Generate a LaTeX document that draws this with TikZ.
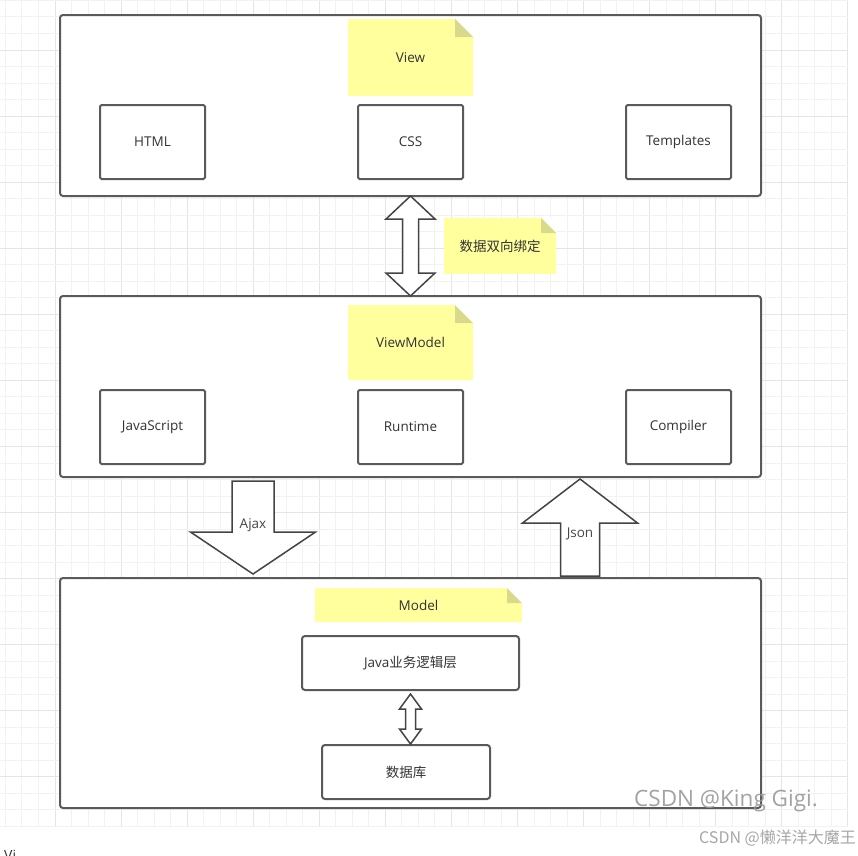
\documentclass[tikz,border=0pt]{standalone}
\usepackage{fontspec}
\setmainfont{Open Sans}
\newfontfamily\cjk{Noto Sans CJK SC}
\usetikzlibrary{calc}
\definecolor{gridmin}{HTML}{F2F2F2}
\definecolor{gridmaj}{HTML}{E5E5E5}
\definecolor{strokec}{HTML}{5A5A5A}
\definecolor{arrowc}{HTML}{444444}
\definecolor{notey}{HTML}{FFFF9E}
\definecolor{foldc}{HTML}{D9D98C}
\definecolor{txtc}{HTML}{333333}
\tikzset{
  gridminor/.style={draw=gridmin, line width=1pt},
  gridmajor/.style={draw=gridmaj, line width=1pt},
  container/.style={draw=strokec, line width=2pt, fill=white, rounded corners=3pt, inner sep=0pt},
  innerbox/.style={draw=strokec, line width=2pt, fill=white, rounded corners=1.5pt, inner sep=0pt,
    minimum width=105pt, minimum height=74pt, font=\fontsize{13.5}{15}\selectfont, text=txtc},
  roundbox/.style={draw=strokec, line width=2pt, fill=white, rounded corners=3pt, inner sep=0pt,
    minimum height=54pt, font=\fontsize{13.5}{15}\selectfont, text=txtc},
  note/.style={fill=notey, inner sep=0pt, font=\fontsize{13.5}{15}\selectfont, text=txtc,
    path picture={
      \fill[white] (path picture bounding box.north east) -- ++(-#1,0pt) -- ++(#1,-#1) -- cycle;
      \fill[foldc] ([xshift=-#1]path picture bounding box.north east) -- ++(#1,-#1) -- ++(-#1,0pt) -- cycle;
    }},
  blockarrow/.style={draw=arrowc, line width=1.5pt, fill=white, line join=miter},
  arrowlabel/.style={inner sep=0pt, font=\fontsize{13.5}{15}\selectfont, text=txtc!90!white},
  mark1/.style={inner sep=0pt, font=\fontsize{22.5}{24}\selectfont, text=black!40, opacity=0.9},
  mark2/.style={inner sep=0pt, font=\cjk\fontsize{16}{18}\selectfont, text=black!35}
}
\begin{document}
\begin{tikzpicture}[x=1pt,y=-1pt]
\useasboundingbox (0,0) rectangle (858,855);
\clip (0,0) rectangle (858,855);
% grid
\foreach \k in {-3,...,48}{
  \pgfmathtruncatemacro\m{mod(\k+400,4)}
  \pgfmathsetmacro\xx{55+16.52*\k}
  \ifnum\m=0 \draw[gridmajor] (\xx,0) -- (\xx,827); \else \draw[gridminor] (\xx,0) -- (\xx,827); \fi
}
\foreach \k in {-3,...,47}{
  \pgfmathtruncatemacro\m{mod(\k+400,4)}
  \pgfmathsetmacro\yy{50+16.52*\k}
  \ifnum\m=0 \draw[gridmajor] (0,\yy) -- (848,\yy); \else \draw[gridminor] (0,\yy) -- (848,\yy); \fi
}
% containers
\node[container, minimum width=701pt, minimum height=181pt] (view) at (410.5,105.5) {};
\node[container, minimum width=701pt, minimum height=181pt] (vm) at (410.5,386.5) {};
\node[container, minimum width=701pt, minimum height=230pt] (model) at (410.5,693) {};
% notes
\node[note=18pt, minimum width=125pt, minimum height=77pt] (vnote) at (410.5,57.5) {View};
\node[note=18pt, minimum width=125pt, minimum height=75pt] (vmnote) at (410.5,342.5) {ViewModel};
\node[note=15pt, minimum width=207pt, minimum height=34pt] (mnote) at (418.5,605) {Model};
% inner boxes
\node[innerbox] (html) at (152.5,142) {HTML};
\node[innerbox] (css) at (410.5,142) {CSS};
\node[innerbox] (tpl) at (678.5,142) {Templates};
\node[innerbox] (js) at (152.5,427) {JavaScript};
\node[innerbox] (rt) at (410.5,427) {Runtime};
\node[innerbox] (cmp) at (678.5,427) {Compiler};
\node[roundbox, minimum width=217pt] (java) at (410.5,663) {Java{\cjk 业务逻辑层}};
\node[roundbox, minimum width=168pt] (db) at (406,772) {\cjk 数据库};
% big double arrow View <-> ViewModel
\coordinate (a1) at ($(view.south)+(0,-1)$);
\coordinate (a2) at ($(vm.north)+(0,1)$);
\draw[blockarrow] (a1) -- ([shift={(24.5,23)}]a1) -- ([shift={(8,23)}]a1) -- ([shift={(8,-23)}]a2)
  -- ([shift={(24.5,-23)}]a2) -- (a2) -- ([shift={(-24.5,-23)}]a2) -- ([shift={(-8,-23)}]a2)
  -- ([shift={(-8,23)}]a1) -- ([shift={(-24.5,23)}]a1) -- cycle;
\node[note=15pt, minimum width=112pt, minimum height=56pt, font=\cjk\fontsize{13.5}{15}\selectfont] (bind) at (500,246) {数据双向绑定};
% Ajax arrow
\coordinate (ajt) at ($(vm.south)+(-157.5,3)$);
\coordinate (ajb) at ($(model.north)+(-157.5,-3)$);
\draw[blockarrow] ([xshift=-21pt]ajt) -- ([xshift=21pt]ajt) -- ([shift={(21,-42)}]ajb) -- ([shift={(62.5,-42)}]ajb)
  -- (ajb) -- ([shift={(-62.5,-42)}]ajb) -- ([shift={(-21,-42)}]ajb) -- cycle;
\node[arrowlabel] (ajax) at (253,525) {Ajax};
% Json arrow
\coordinate (jst) at ($(vm.south)+(169.5,1)$);
\coordinate (jsb) at ($(model.north)+(169.5,-1)$);
\draw[blockarrow] (jst) -- ([shift={(57.5,44)}]jst) -- ([shift={(19.5,44)}]jst) -- ([xshift=19.5pt]jsb)
  -- ([xshift=-19.5pt]jsb) -- ([shift={(-19.5,44)}]jst) -- ([shift={(-57.5,44)}]jst) -- cycle;
\node[arrowlabel] (json) at (580,534) {Json};
% small double arrow java <-> db
\coordinate (b1) at ($(java.south)+(0,3)$);
\coordinate (b2) at ($(java.south |- db.north)+(0,0)$);
\draw[blockarrow] (b1) -- ([shift={(11,15)}]b1) -- ([shift={(5,15)}]b1) -- ([shift={(5,-15)}]b2)
  -- ([shift={(11,-15)}]b2) -- (b2) -- ([shift={(-11,-15)}]b2) -- ([shift={(-5,-15)}]b2)
  -- ([shift={(-5,15)}]b1) -- ([shift={(-11,15)}]b1) -- cycle;
% watermarks
\node[mark1, anchor=west] (wm1) at (634,801) {CSDN @King Gigi.};
\node[mark2, anchor=east] (wm2) at (856,838) {CSDN @懒洋洋大魔王};
\node[inner sep=0pt, anchor=north west, font=\fontsize{14}{16}\selectfont, text=txtc] (vi) at (4,850) {Vi};
\end{tikzpicture}
\end{document}
